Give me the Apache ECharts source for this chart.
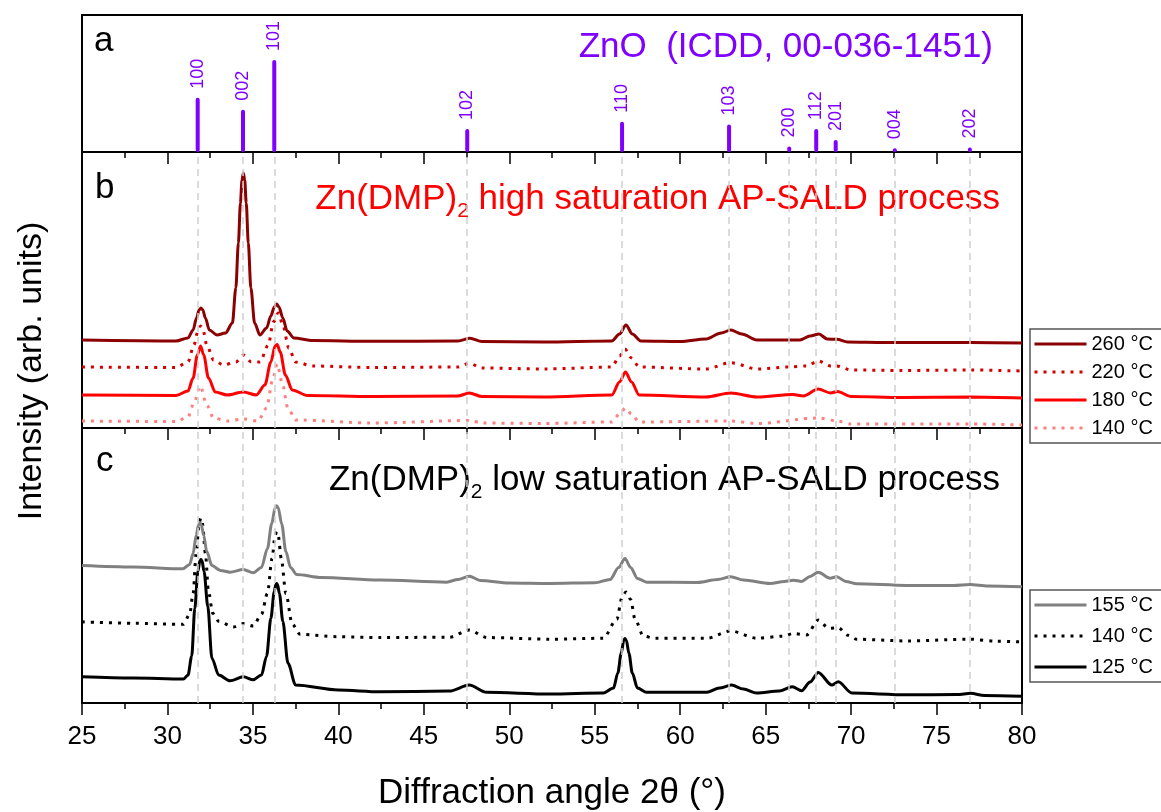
<!DOCTYPE html>
<html>
<head>
<meta charset="utf-8">
<title>ZnO XRD</title>
<script src="https://cdn.jsdelivr.net/npm/echarts/dist/echarts.min.js"></script>
<style>
  html, body { margin: 0; padding: 0; background: #fff; }
  #myChart { width: 1161px; height: 812px; }
</style>
</head>
<body>
<div id="myChart"></div>
<script>
  // reference pattern ZnO (ICDD 00-036-1451)
  var refPos = [31.77, 34.42, 36.25, 47.54, 56.60, 62.86, 66.38, 67.96, 69.10, 72.56, 76.95]
  var refInt = [59, 46, 100, 25, 33, 30, 6, 25, 13, 4, 5]
  var refHkl = ['100', '002', '101', '102', '110', '103', '200', '112', '201', '004', '202']

  // panel b: high saturation (2θ, arb. intensity)
  var b260 = [[25, 88], [30.5, 87], [31.2, 90], [31.5, 98], [31.7, 110], [31.85, 118], [31.96, 120], [32.07, 118],
    [32.22, 110], [32.45, 98], [32.9, 93], [33.4, 95], [33.8, 105], [34.0, 140], [34.15, 185], [34.27, 225],
    [34.36, 248], [34.44, 255], [34.52, 248], [34.61, 225], [34.73, 185], [34.88, 140], [35.1, 105], [35.41, 93],
    [35.8, 100], [36.05, 112], [36.25, 121], [36.39, 124], [36.53, 121], [36.75, 110], [37.0, 97], [37.4, 90],
    [38.5, 87.5], [42, 86.7], [47.0, 87], [47.7, 89.7], [48.4, 86.5], [52, 86], [56.0, 87], [56.45, 94],
    [56.83, 103], [57.2, 94], [57.7, 87], [60, 86.5], [61.5, 89], [62.4, 95], [62.96, 98], [63.6, 94],
    [64.5, 88], [66.0, 88], [67.0, 88], [67.6, 92], [68.12, 94], [68.6, 89], [69.16, 88.7], [69.8, 86],
    [72, 85.5], [77, 85.5], [80, 85]]
  var b220 = [[25, 61], [30.5, 60.5], [31.2, 66], [31.55, 83], [31.8, 98], [31.94, 102], [32.08, 98], [32.3, 83],
    [32.7, 68], [33.27, 63], [34.0, 66], [34.44, 73], [34.9, 66], [35.41, 66], [35.9, 83], [36.2, 106],
    [36.49, 115], [36.75, 103], [37.1, 80], [37.5, 66], [38.5, 62], [42, 60.5], [47.0, 61], [47.66, 64.7],
    [48.4, 60], [52, 59], [56.0, 61], [56.45, 72], [56.77, 79], [57.15, 70], [57.6, 61], [61.5, 59],
    [62.96, 65.3], [64.5, 59], [66.3, 61], [67.4, 62], [68.08, 67], [68.8, 62], [69.16, 62], [70.0, 58],
    [73, 57.5], [77, 58], [80, 57]]
  var b180 = [[25, 33], [30.5, 32.5], [31.2, 37], [31.5, 50], [31.75, 73], [31.94, 82], [32.12, 73], [32.4, 50],
    [32.8, 36], [33.5, 33], [34.44, 36], [35.2, 33], [35.7, 43], [36.05, 66], [36.3, 82], [36.42, 83.5],
    [36.6, 76], [36.9, 53], [37.3, 38], [38.2, 32.5], [42, 31.5], [47.0, 32], [47.66, 35], [48.4, 31.5],
    [52, 31], [56.0, 33], [56.45, 46], [56.8, 56], [57.15, 46], [57.6, 33], [61.5, 31], [62.96, 35],
    [64.5, 31], [66.6, 33.5], [67.2, 32], [68.08, 39], [68.8, 35], [69.2, 36.5], [70.0, 31.5], [73, 30.5],
    [77, 31], [80, 30]]
  var b140 = [[25, 7], [30.5, 6.5], [31.2, 11], [31.55, 25], [31.92, 42], [32.3, 23], [32.7, 10], [33.5, 7],
    [34.44, 9], [35.3, 7], [35.8, 20], [36.15, 48], [36.42, 64], [36.7, 46], [37.05, 20], [37.5, 8], [42, 5],
    [47.66, 7.5], [48.4, 5], [52, 4.5], [56.0, 6], [56.5, 15], [56.8, 20], [57.15, 14], [57.6, 6],
    [62.96, 7], [64.5, 4.5], [68.08, 10], [69.2, 7], [70.0, 4], [77, 4], [80, 3]]

  // panel c: low saturation
  var c155 = [[25, 138], [28, 136.5], [30.9, 134.7], [31.3, 139], [31.5, 150], [31.68, 168], [31.82, 179],
    [31.9, 181], [31.98, 179], [32.12, 168], [32.3, 152], [32.6, 138], [33.1, 133], [33.66, 131.3],
    [34.44, 134], [35.02, 130.7], [35.5, 136], [35.85, 155], [36.1, 180], [36.3, 196], [36.39, 198],
    [36.48, 196], [36.68, 180], [36.93, 152], [37.2, 136], [37.56, 129], [39, 126], [42.4, 123.5],
    [46.34, 121.3], [47.0, 124], [47.66, 127.3], [48.3, 123], [50, 120.5], [52.38, 120], [55.0, 120.7],
    [55.9, 124], [56.4, 136], [56.77, 145], [57.1, 136], [57.5, 125], [58.04, 121.3], [61, 121], [62.2, 124],
    [62.96, 126.7], [63.7, 123.5], [65.26, 120], [66.1, 122], [66.62, 123.3], [67.11, 122], [67.6, 127],
    [68.08, 131.3], [68.77, 125.3], [69.16, 126.7], [69.7, 122], [70.33, 119.7], [73.25, 118], [76.0, 118],
    [76.96, 119], [78, 117.5], [80, 116.7]]
  var c140 = [[25, 81.5], [28, 80], [30.93, 79], [31.3, 89], [31.5, 110], [31.68, 150], [31.85, 180],
    [31.95, 185.7], [32.05, 180], [32.22, 150], [32.4, 112], [32.65, 90], [33.0, 82], [33.85, 76.3],
    [34.44, 79.7], [35.02, 77.3], [35.5, 89], [35.85, 110], [36.12, 145], [36.3, 168], [36.39, 172],
    [36.48, 168], [36.66, 145], [36.93, 110], [37.3, 79], [37.76, 69], [40, 66.5], [42.44, 65.7], [46.5, 66],
    [47.66, 73.3], [48.68, 65.7], [52.38, 64], [55.5, 65], [56.29, 84], [56.6, 106], [56.83, 111.3],
    [57.1, 104], [57.36, 84], [57.84, 67.3], [58.5, 65], [61.55, 65], [62.96, 72.3], [64.48, 65], [66.0, 67],
    [66.62, 69.7], [67.4, 68.3], [68.08, 83.3], [68.7, 75], [69.25, 75.7], [69.8, 68], [70.33, 64],
    [73.25, 62.3], [76.96, 64], [78.5, 62], [80, 61.3]]
  var c125 = [[25, 26.3], [28, 25], [30.93, 24], [31.2, 28], [31.42, 47], [31.6, 95], [31.78, 132], [31.9, 143],
    [31.96, 144], [32.02, 143], [32.14, 132], [32.36, 97], [32.6, 45], [33.0, 28], [33.66, 22.3], [34.44, 26.3],
    [35.02, 23.3], [35.5, 28], [35.8, 47], [36.05, 85], [36.25, 112], [36.34, 119], [36.39, 120], [36.44, 119],
    [36.55, 110], [36.75, 82], [37.05, 40], [37.5, 18], [40, 13], [42.44, 11.3], [46.5, 12], [47.66, 18],
    [48.68, 10.7], [52.38, 9], [55.5, 10], [56.1, 15], [56.35, 30], [56.55, 50], [56.7, 63], [56.77, 64.7],
    [56.85, 63], [57.0, 50], [57.2, 30], [57.5, 15], [58.04, 10.7], [61.55, 10.7], [62.3, 15], [63.0, 18],
    [63.7, 14], [64.48, 10], [65.8, 12], [66.56, 16.3], [67.11, 12.3], [67.6, 21], [68.08, 30.7], [68.87, 18],
    [69.25, 21.3], [70.04, 10], [73.25, 8.3], [76.2, 8.5], [77.0, 9.7], [77.8, 7.5], [80, 6.7]]

  var legendNames = {
    b260: '260 °C', b220: '220 °C', b180: '180 °C', b140: '140 °C',
    c155: '155 °C', c140: '140 °C', c125: '125 °C'
  }

  var font = 'Liberation Sans, Arial, sans-serif'
  var purple = '#7f00ff'

  function makeX(i, last) {
    return {
      type: 'value', gridIndex: i, min: 25, max: 80, interval: 5,
      axisLine: {show: true, onZero: false, lineStyle: {color: '#000', width: 2}},
      axisTick: {show: true, length: 12, lineStyle: {color: '#000', width: 1.5}},
      minorTick: {show: true, splitNumber: 2, length: 6, lineStyle: {color: '#000', width: 1.5}},
      splitLine: {show: false},
      axisLabel: {show: last, color: '#000', fontSize: 26, fontFamily: font, margin: 21},
      name: last ? 'Diffraction angle 2θ (°)' : '',
      nameLocation: 'middle',
      nameGap: 73,
      nameTextStyle: {color: '#000', fontSize: 35, fontFamily: font}
    }
  }

  function makeY(i, max) {
    return {type: 'value', gridIndex: i, min: 0, max: max, show: false}
  }

  function curve(name, i, data, color, dotted) {
    return {
      name: name, type: 'line', xAxisIndex: i, yAxisIndex: i, data: data,
      symbol: 'none', showSymbol: false, smooth: 0.3, smoothMonotone: 'x', z: 3,
      lineStyle: {color: color, width: 3, type: dotted ? [3, 6] : 'solid'},
      itemStyle: {color: color}
    }
  }

  // dashed guides at reference positions
  function guides(i) {
    return {
      type: 'line', xAxisIndex: i, yAxisIndex: i, data: [], silent: true, z: 1,
      markLine: {
        symbol: 'none', silent: true, animation: false,
        label: {show: false},
        lineStyle: {color: '#cfcfcf', type: [7, 5], width: 1.5},
        data: refPos.map(function (p) { return {xAxis: p} })
      }
    }
  }

  function legendBox(names, top, gap) {
    return {
      data: names, orient: 'vertical', left: 1030, top: top,
      itemWidth: 52, itemHeight: 14, itemGap: gap,
      padding: [5, 40, 5, 3],
      borderColor: '#555', borderWidth: 1.5,
      selectedMode: false,
      itemStyle: {opacity: 0, borderWidth: 0},
      lineStyle: {width: 3, color: 'inherit', type: 'inherit'},
      formatter: function (n) { return legendNames[n] },
      textStyle: {fontSize: 20, color: '#000', fontFamily: font, lineHeight: 20}
    }
  }

  function label(text, x, y, color, align, size) {
    return {
      type: 'text', x: x, y: y, silent: true,
      style: {
        text: text, fill: color, font: size + 'px ' + font,
        fontSize: size, fontFamily: font,
        align: align, textAlign: align, verticalAlign: 'middle', textVerticalAlign: 'middle'
      }
    }
  }

  function richTitle(before, after, x, y, color) {
    return {
      type: 'text', x: x, y: y, silent: true,
      style: {
        text: '{m|' + before + '}{s|2}{m|' + after + '}',
        fill: color, fontSize: 35, fontFamily: font,
        align: 'right', textAlign: 'right', verticalAlign: 'top', textVerticalAlign: 'top',
        rich: {
          m: {fontSize: 35, fontFamily: font, lineHeight: 35, verticalAlign: 'top', fill: color, color: color},
          s: {fontSize: 21, fontFamily: font, lineHeight: 21, verticalAlign: 'top', padding: [19, 0, 0, 0], fill: color, color: color}
        }
      }
    }
  }

  var myChart = echarts.init(document.getElementById('myChart'))
  myChart.setOption({
    animation: false,
    backgroundColor: '#fff',
    grid: [
      {left: 82, right: 139, top: 15, height: 137, show: true, borderColor: '#000', borderWidth: 2},
      {left: 82, right: 139, top: 152, height: 276, show: true, borderColor: '#000', borderWidth: 2},
      {left: 82, right: 139, top: 428, height: 276, show: true, borderColor: '#000', borderWidth: 2}
    ],
    xAxis: [makeX(0, false), makeX(1, false), makeX(2, true)],
    yAxis: [makeY(0, 149), makeY(1, 276), makeY(2, 276)],
    legend: [
      legendBox(['b260', 'b220', 'b180', 'b140'], 329, 8),
      legendBox(['c155', 'c140', 'c125'], 590, 11)
    ],
    graphic: [
      label('a', 94, 41, '#000', 'left', 35),
      label('b', 95, 188, '#000', 'left', 35),
      label('c', 96, 461, '#000', 'left', 35),
      label('ZnO  (ICDD, 00-036-1451)', 993, 47, purple, 'right', 35),
      richTitle('Zn(DMP)', ' high saturation AP-SALD process', 1000, 182, '#ff0000'),
      richTitle('Zn(DMP)', ' low saturation AP-SALD process', 1000, 463, '#000'),
      {
        type: 'text', x: 32, y: 371, rotation: Math.PI / 2, silent: true,
        style: {
          text: 'Intensity (arb. units)', fill: '#000', fontSize: 34, fontFamily: font,
          font: '34px ' + font,
          align: 'center', textAlign: 'center', verticalAlign: 'middle', textVerticalAlign: 'middle'
        }
      }
    ],
    series: [
      {
        type: 'bar', xAxisIndex: 0, yAxisIndex: 0, barWidth: 4,
        data: refPos.map(function (p, i) { return [p, refInt[i]] }),
        itemStyle: {color: purple, borderRadius: 2},
        label: {
          show: true, position: 'top', rotate: 90, align: 'left', verticalAlign: 'middle',
          distance: 9, fontSize: 18, fontFamily: font, color: purple,
          formatter: function (p) { return refHkl[p.dataIndex] }
        }
      },
      guides(1),
      guides(2),
      curve('b140', 1, b140, '#ff7f7f', true),
      curve('b180', 1, b180, '#ff0000', false),
      curve('b220', 1, b220, '#d40000', true),
      curve('b260', 1, b260, '#8b0000', false),
      curve('c125', 2, c125, '#000', false),
      curve('c140', 2, c140, '#000', true),
      curve('c155', 2, c155, '#808080', false)
    ]
  })
</script>
</body>
</html>
